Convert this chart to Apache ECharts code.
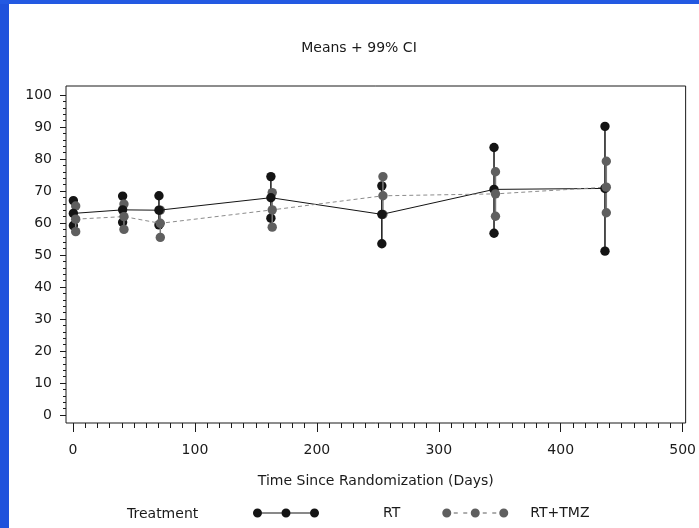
<!DOCTYPE html>
<html>
<head>
<meta charset="utf-8">
<script src="https://cdn.jsdelivr.net/npm/echarts@6/dist/echarts.min.js"></script>
<style>
html,body{margin:0;padding:0;background:#fff;}
#chart{width:699px;height:528px;}
</style>
</head>
<body>
<div id="chart"></div>
<script>
// ---- data ----
const seriesNames = ['RT', 'RT+TMZ'];
const rtDays   = [0.3, 40.7, 70.5, 162.3, 253.3, 345.3, 436.3];
const rtMean   = [63.0, 64.1, 64.0, 67.9, 62.7, 70.5, 70.8];
const rtUpper  = [67.0, 68.4, 68.5, 74.5, 71.6, 83.6, 90.2];
const rtLower  = [59.2, 60.2, 59.4, 61.5, 53.5, 56.8, 51.2];
const tmzDays  = [2.2, 41.8, 71.6, 163.4, 254.2, 346.5, 437.4];
const tmzMean  = [61.2, 62.0, 59.9, 64.1, 68.5, 69.1, 71.2];
const tmzUpper = [65.3, 65.9, 64.0, 69.5, 74.5, 76.0, 79.3];
const tmzLower = [57.3, 58.0, 55.5, 58.7, 62.7, 62.1, 63.2];
const xTicks = [0, 100, 200, 300, 400, 500];
const yTicks = [0, 10, 20, 30, 40, 50, 60, 70, 80, 90, 100];
const xMinorStep = 10;
const yMinorStep = 2;
const titleText = 'Means + 99% CI';
const xTitle = 'Time Since Randomization (Days)';
const legendTitle = 'Treatment';

const xMinor = [];
for (let v = xTicks[0]; v <= xTicks[xTicks.length - 1]; v += xMinorStep) xMinor.push(v);
const yMinor = [];
for (let v = yTicks[0]; v <= yTicks[yTicks.length - 1]; v += yMinorStep) yMinor.push(v);

const FONT = 'DejaVu Sans';
const TXT = '#1a1a1a';
const RT_COLOR = '#141414';
const TMZ_COLOR = '#5f5f5f';
const TMZ_LINE = '#8c8c8c';
const R = 4.7;

function errorSeries(name, days, lo, hi, color, lineColor) {
  return {
    name: name,
    type: 'custom',
    data: days.map((d, i) => [d, lo[i], hi[i]]),
    encode: { x: 0, y: [1, 2] },
    itemStyle: { color: color },
    renderItem: function (params, api) {
      const x = api.value(0);
      const p1 = api.coord([x, api.value(1)]);
      const p2 = api.coord([x, api.value(2)]);
      return {
        type: 'group',
        children: [
          { type: 'line', shape: { x1: p1[0], y1: p1[1], x2: p2[0], y2: p2[1] },
            style: { stroke: lineColor, lineWidth: 1.5 } },
          { type: 'circle', shape: { cx: p1[0], cy: p1[1], r: R }, style: { fill: color } },
          { type: 'circle', shape: { cx: p2[0], cy: p2[1], r: R }, style: { fill: color } }
        ]
      };
    },
    z: 2
  };
}

function meanSeries(name, days, mean, color, lineColor, dashed) {
  return {
    name: name,
    type: 'line',
    data: days.map((d, i) => [d, mean[i]]),
    symbol: 'circle',
    symbolSize: R * 2,
    itemStyle: { color: color, borderWidth: 0 },
    lineStyle: { color: lineColor, width: 1, type: dashed ? [4, 3] : 'solid' },
    emphasis: { disabled: true },
    z: 2
  };
}

// legend icons: line with three dots (solid / dashed)
function circ(cx, cy, r) {
  return 'M' + (cx - r) + ',' + cy + ' A' + r + ',' + r + ' 0 1,1 ' + (cx + r) + ',' + cy +
         ' A' + r + ',' + r + ' 0 1,1 ' + (cx - r) + ',' + cy + ' Z ';
}
function rect(x1, x2, y1, y2) {
  return 'M' + x1 + ',' + y1 + ' L' + x2 + ',' + y1 + ' L' + x2 + ',' + y2 + ' L' + x1 + ',' + y2 + ' Z ';
}
const iconSolid = 'path://' + rect(0, 66, 4.5, 5.5) + circ(4.5, 5, 4.5) + circ(33, 5, 4.5) + circ(61.5, 5, 4.5);
const iconDashed = 'path://' + rect(11.5, 15.5, 4.5, 5.5) + rect(21, 25, 4.5, 5.5) +
  rect(40.5, 44.5, 4.5, 5.5) + rect(50, 54, 4.5, 5.5) +
  circ(4.5, 5, 4.5) + circ(33, 5, 4.5) + circ(61.5, 5, 4.5);

const tickStyle = { color: '#1a1a1a', width: 1 };
const X_MIN = -5.74, X_MAX = 502.46, Y_MIN = -2.5, Y_MAX = 102.81;

const chart = echarts.init(document.getElementById('chart'), null, { renderer: 'canvas' });
chart.setOption({
  backgroundColor: '#ffffff',
  animation: false,
  textStyle: { fontFamily: FONT, color: TXT },
  title: {
    text: titleText,
    left: 354,
    top: 36,
    textAlign: 'center',
    textStyle: { fontFamily: FONT, fontSize: 14, fontWeight: 'normal', color: TXT }
  },
  grid: { left: 66, right: 13, top: 86, bottom: 105, containLabel: false,
    show: true, borderColor: '#1a1a1a', borderWidth: 1, backgroundColor: 'transparent' },
  xAxis: [{
    type: 'value',
    min: X_MIN, max: X_MAX,
    name: xTitle,
    nameLocation: 'middle',
    nameGap: 51,
    nameTextStyle: { fontFamily: FONT, fontSize: 14, color: TXT },
    axisLine: { show: false, onZero: false },
    axisTick: { show: true, inside: false, length: 9, lineStyle: tickStyle, customValues: xTicks },
    axisLabel: { margin: 20, fontFamily: FONT, fontSize: 14, color: TXT, customValues: xTicks },
    splitLine: { show: false }
  }, {
    type: 'value',
    position: 'bottom',
    min: X_MIN, max: X_MAX,
    axisLine: { show: false, onZero: false },
    axisTick: { show: true, inside: false, length: 5, lineStyle: tickStyle, customValues: xMinor },
    axisLabel: { show: false },
    splitLine: { show: false }
  }],
  yAxis: [{
    type: 'value',
    min: Y_MIN, max: Y_MAX,
    axisLine: { show: false, onZero: false },
    axisTick: { show: true, inside: false, length: 6, lineStyle: tickStyle, customValues: yTicks },
    axisLabel: { margin: 14, fontFamily: FONT, fontSize: 14, color: TXT, customValues: yTicks },
    splitLine: { show: false }
  }, {
    type: 'value',
    position: 'left',
    min: Y_MIN, max: Y_MAX,
    axisLine: { show: false, onZero: false },
    axisTick: { show: true, inside: false, length: 3, lineStyle: tickStyle, customValues: yMinor },
    axisLabel: { show: false },
    splitLine: { show: false }
  }],
  legend: {
    left: 253,
    top: 506,
    padding: 0,
    itemWidth: 66,
    itemHeight: 10,
    itemGap: 42,
    selectedMode: false,
    data: [
      { name: seriesNames[0], icon: iconSolid,
        textStyle: { fontFamily: FONT, fontSize: 14, color: TXT, padding: [0, 0, 0, 59] } },
      { name: seriesNames[1], icon: iconDashed,
        textStyle: { fontFamily: FONT, fontSize: 14, color: TXT, padding: [0, 0, 0, 17] } }
    ],
    itemStyle: { borderWidth: 0 },
    textStyle: { fontFamily: FONT, fontSize: 14, color: TXT }
  },
  graphic: [
    { type: 'rect', shape: { x: 0, y: 0, width: 9, height: 528 }, style: { fill: '#1f52dc' }, z: 10 },
    { type: 'rect', shape: { x: 0, y: 0, width: 699, height: 4 }, style: { fill: '#2359e2' }, z: 10 },
    { type: 'text', left: 127, top: 507,
      style: { text: legendTitle, font: '14px "DejaVu Sans"', fill: TXT } }
  ],
  series: [
    errorSeries(seriesNames[0], rtDays, rtLower, rtUpper, RT_COLOR, RT_COLOR),
    meanSeries(seriesNames[0], rtDays, rtMean, RT_COLOR, RT_COLOR, false),
    errorSeries(seriesNames[1], tmzDays, tmzLower, tmzUpper, TMZ_COLOR, '#7a7a7a'),
    meanSeries(seriesNames[1], tmzDays, tmzMean, TMZ_COLOR, TMZ_LINE, true)
  ]
});
</script>
</body>
</html>
